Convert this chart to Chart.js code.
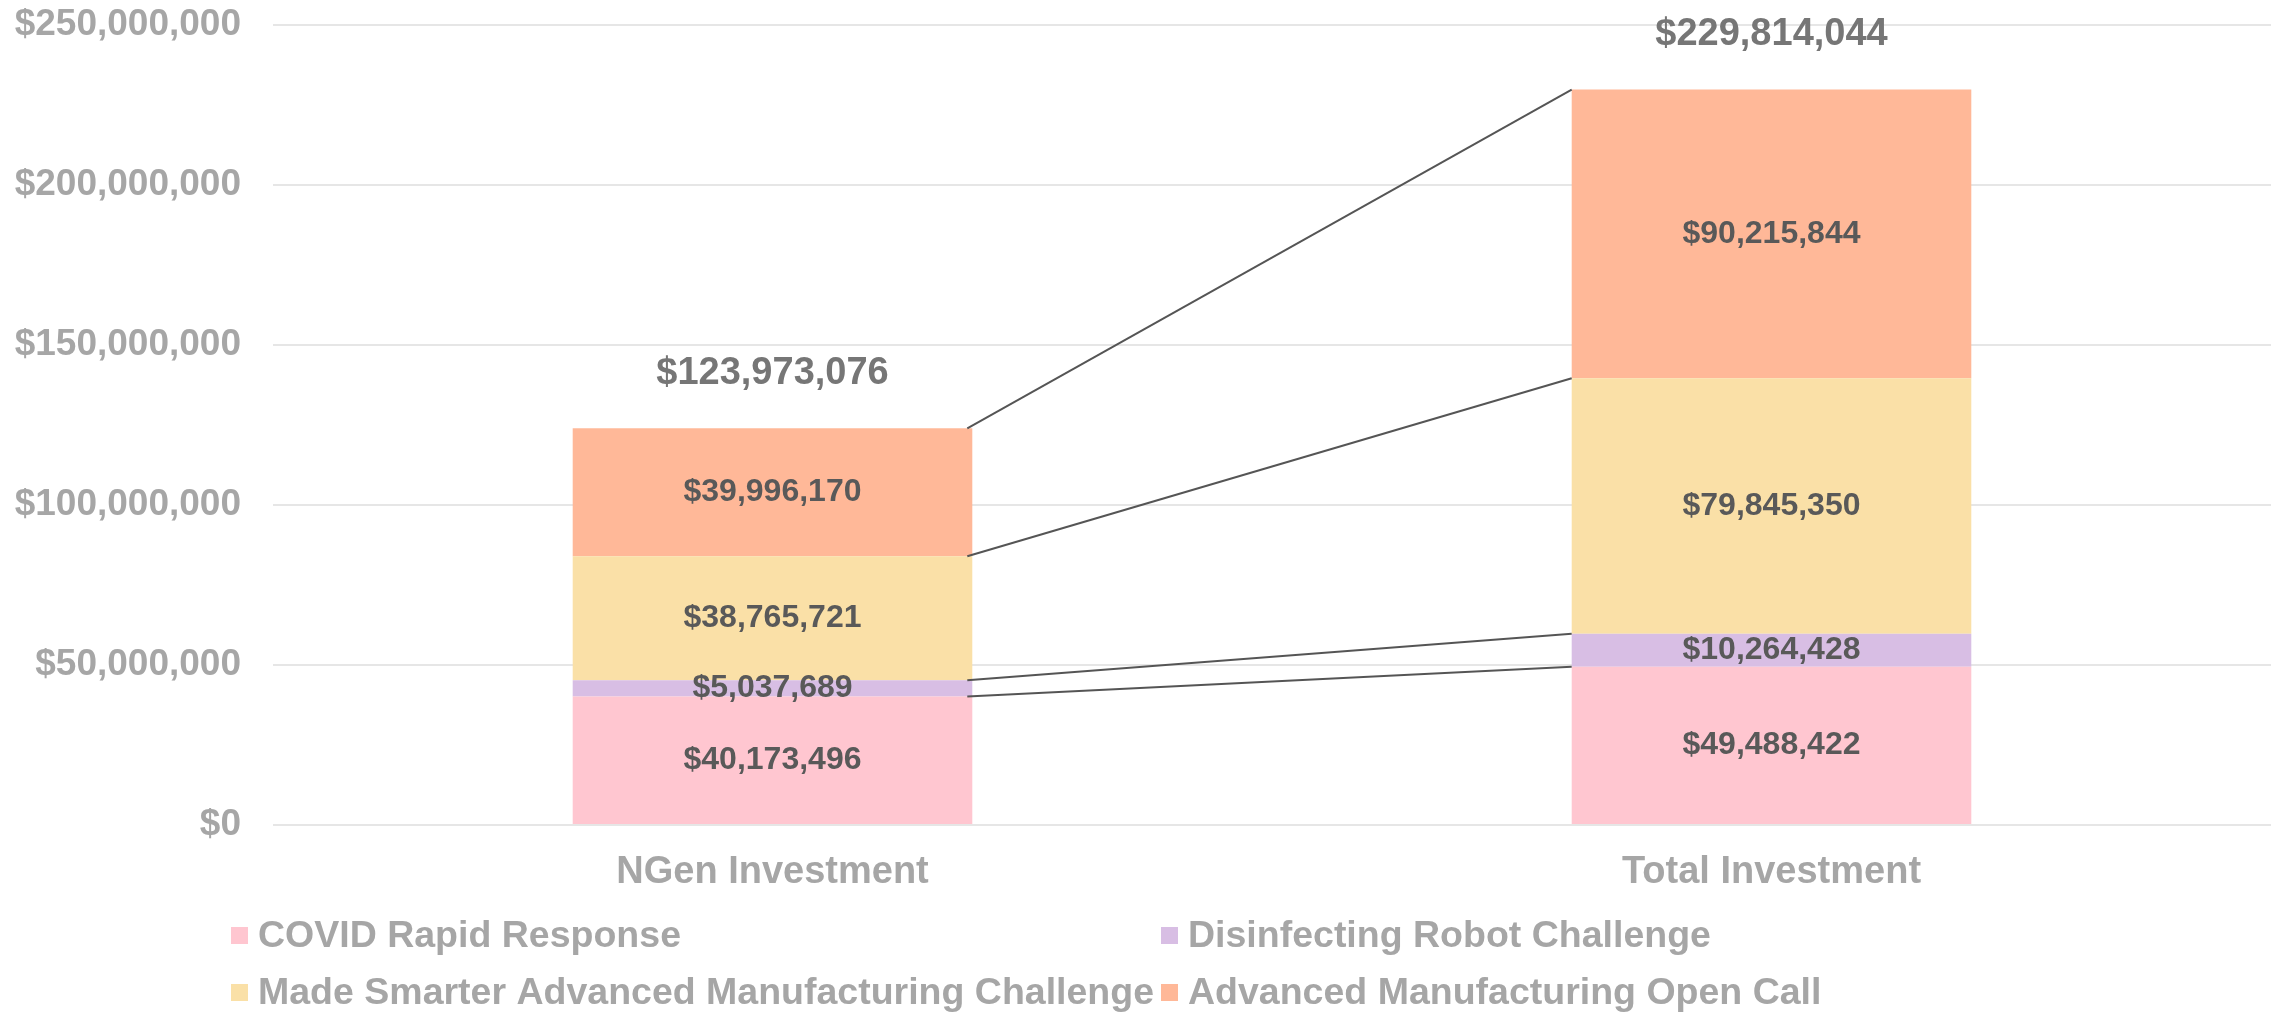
<!DOCTYPE html>
<html>
<head>
<meta charset="utf-8">
<script src="https://cdn.jsdelivr.net/npm/chart.js@4.4.1/dist/chart.umd.min.js"></script>
<style>
  html, body { margin: 0; padding: 0; background: #fff; }
  #wrap { width: 2280px; height: 1013px; }
</style>
</head>
<body>
<div id="wrap"><canvas id="investChart" width="2280" height="1013"></canvas></div>
<script>
// chart data
var categories = ['NGen Investment', 'Total Investment'];
var seriesNames = ['COVID Rapid Response', 'Disinfecting Robot Challenge',
                   'Made Smarter Advanced Manufacturing Challenge', 'Advanced Manufacturing Open Call'];
var covidRapid = [40173496, 49488422];
var disinfectingRobot = [5037689, 10264428];
var madeSmarter = [38765721, 79845350];
var openCall = [39996170, 90215844];
var totals = [123973076, 229814044];
var yTicks = [0, 50000000, 100000000, 150000000, 200000000, 250000000];

var colors = ['#FFC6D0', '#D8BEE4', '#FAE0A7', '#FFB898'];
var FONT = "Arial, 'Liberation Sans', sans-serif";

function money(v) {
    return '$' + Math.round(v).toLocaleString('en-US');
}

// value labels inside segments + totals on top
var labelPlugin = {
    id: 'labelPlugin',
    afterDatasetsDraw: function(chart) {
        var ctx = chart.ctx;
        ctx.save();
        ctx.textAlign = 'center';
        ctx.textBaseline = 'middle';

        // series lines between the two bars
        ctx.strokeStyle = '#555555';
        ctx.lineWidth = 2;
        chart.data.datasets.forEach(function(ds, i) {
            var els = chart.getDatasetMeta(i).data;
            var a = els[0], b = els[1];
            ctx.beginPath();
            ctx.moveTo(a.x + a.width / 2 - 5, a.y);
            ctx.lineTo(b.x - b.width / 2, b.y);
            ctx.stroke();
        });

        ctx.font = 'bold 32px ' + FONT;
        ctx.fillStyle = '#595959';
        chart.data.datasets.forEach(function(ds, i) {
            chart.getDatasetMeta(i).data.forEach(function(el, j) {
                ctx.fillText(money(ds.data[j]), el.x, (el.y + el.base) / 2);
            });
        });

        ctx.font = 'bold 38px ' + FONT;
        ctx.fillStyle = '#767676';
        var y = chart.scales.y;
        var lastMeta = chart.getDatasetMeta(chart.data.datasets.length - 1);
        totals.forEach(function(t, j) {
            ctx.fillText(money(t), lastMeta.data[j].x, y.getPixelForValue(t) - 55);
        });
        ctx.restore();
    }
};

// legend in two rows, two columns
var legendPlugin = {
    id: 'gridLegend',
    afterDraw: function(chart) {
        var ctx = chart.ctx;
        var pos = [[231, 935], [1161, 935], [231, 992], [1161, 992]];
        ctx.save();
        ctx.font = 'bold 37.5px ' + FONT;
        ctx.textBaseline = 'middle';
        ctx.textAlign = 'left';
        chart.data.datasets.forEach(function(ds, i) {
            var p = pos[i];
            ctx.fillStyle = ds.backgroundColor;
            ctx.fillRect(p[0], p[1] - 8, 17, 17);
            ctx.fillStyle = '#a6a6a6';
            ctx.fillText(ds.label, p[0] + 27, p[1] + 2);
        });
        ctx.restore();
    }
};

var seriesValues = [covidRapid, disinfectingRobot, madeSmarter, openCall];
var datasets = seriesNames.map(function(name, i) {
    return {
        label: name,
        data: seriesValues[i],
        backgroundColor: colors[i],
        borderWidth: 0,
        categoryPercentage: 0.4,
        barPercentage: 1.0
    };
});

var ctx_chart = document.getElementById('investChart');
var myChart = new Chart(ctx_chart, {
    type: 'bar',
    data: { labels: categories, datasets: datasets },
    options: {
        responsive: false,
        animation: false,
        layout: { padding: { top: 0, right: 9, bottom: 108, left: 0 } },
        plugins: {
            legend: { display: false },
            tooltip: { enabled: false }
        },
        scales: {
            x: {
                stacked: true,
                grid: { display: false, drawTicks: false },
                border: { display: false },
                ticks: {
                    color: '#a6a6a6',
                    font: { family: FONT, size: 38, weight: 'bold' },
                    padding: 25
                },
                afterFit: function(scale) { scale.height = 80; }
            },
            y: {
                stacked: true,
                min: 0,
                max: 250000000,
                afterBuildTicks: function(scale) {
                    scale.ticks = yTicks.map(function(v) { return { value: v }; });
                },
                grid: { color: '#e6e6e6', lineWidth: 2, drawTicks: false },
                border: { display: false },
                ticks: {
                    color: '#a6a6a6',
                    font: { family: FONT, size: 37, weight: 'bold' },
                    padding: 32,
                    callback: function(v) { return money(v); }
                },
                afterFit: function(scale) {
                    scale.width = 273;
                    scale.paddingTop = 25;
                    scale.paddingBottom = 0;
                }
            }
        }
    },
    plugins: [labelPlugin, legendPlugin]
});
</script>
</body>
</html>
